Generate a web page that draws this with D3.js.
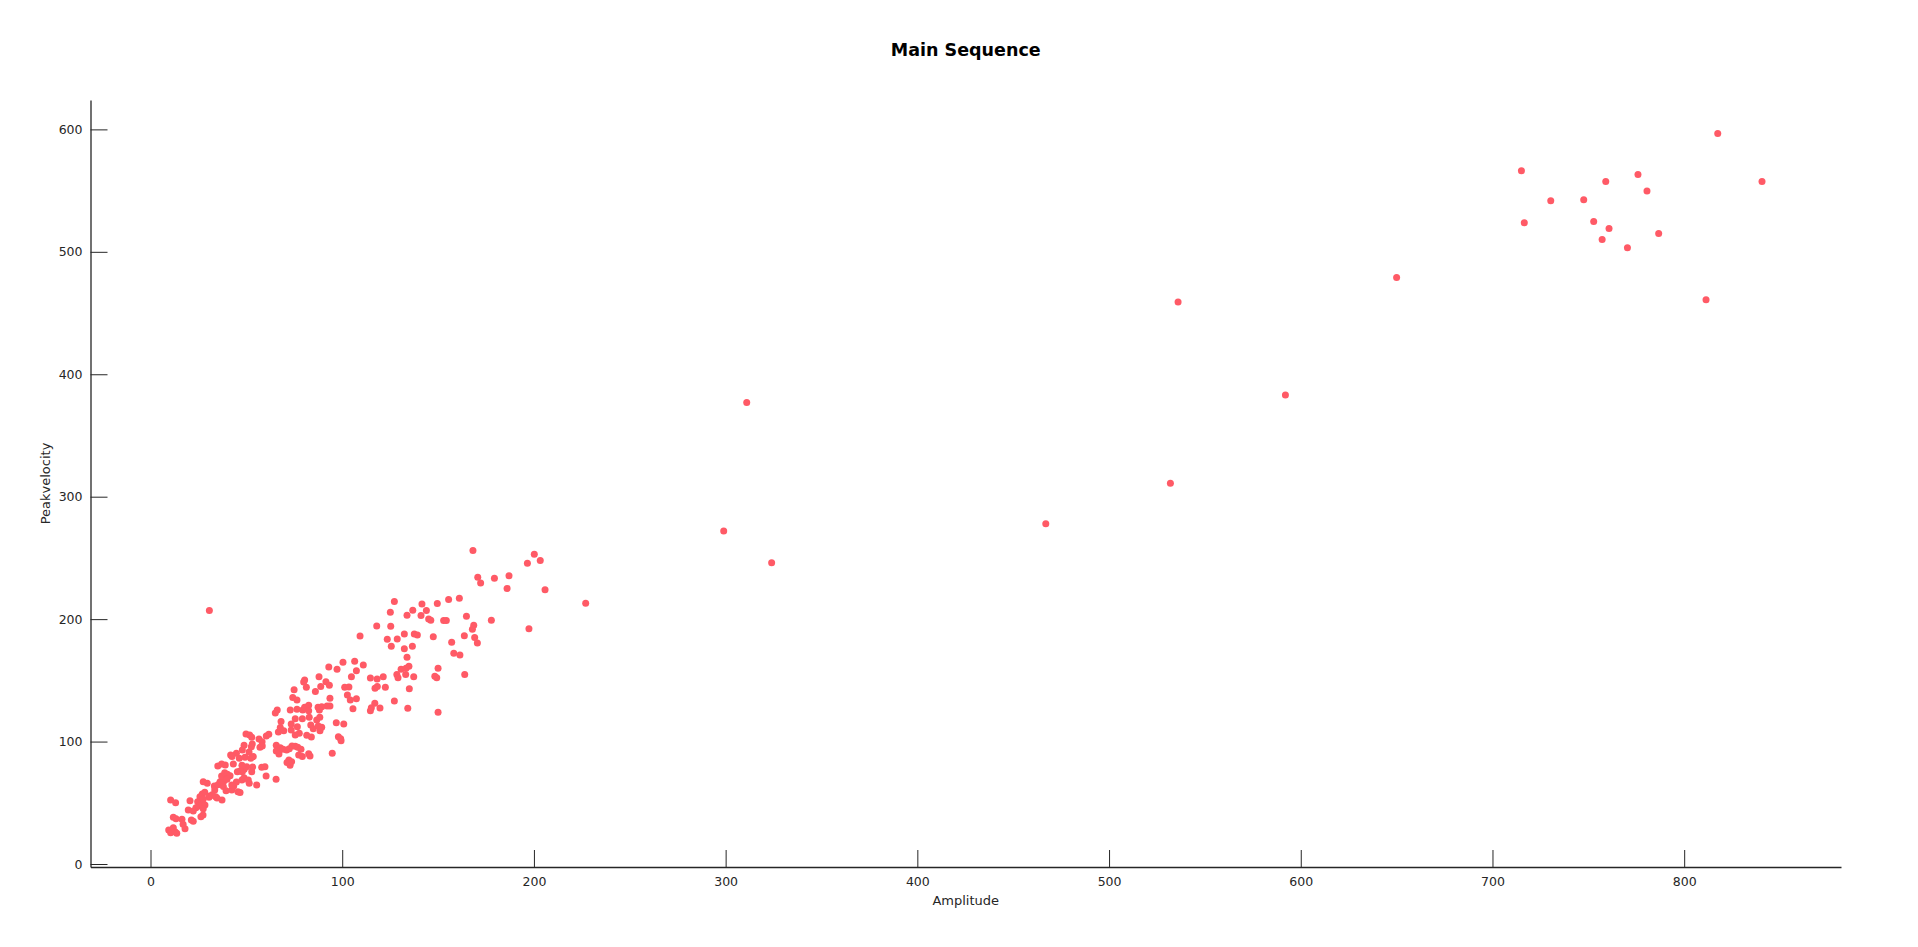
<!DOCTYPE html>
<html>
<head>
<meta charset="utf-8">
<script src="https://cdn.jsdelivr.net/npm/d3@7"></script>
<style>
  html, body { margin: 0; padding: 0; background: #ffffff; }
  svg { display: block; font-family: "DejaVu Sans", sans-serif; }
</style>
</head>
<body>
<svg id="chart" width="1918" height="947"></svg>
<script>
// ---- data ----
const title = "Main Sequence";
const xLabel = "Amplitude";
const yLabel = "Peakvelocity";
const xTicks = [0, 100, 200, 300, 400, 500, 600, 700, 800];
const yTicks = [0, 100, 200, 300, 400, 500, 600];

const amplitude = [
  10.5,13.1,20.6,27,28.3,25.8,24.6,26.9,28.4,25.3,23.7,27.5,30.5,31,27.5,
  19.7,22.3,21.3,22.3,26.3,27.4,11.9,13.3,16.4,17,18,9.5,10.5,11.9,12.8,13.7,
  29.6,27.5,33.3,33.5,35.2,36.3,38.3,37.1,38.7,40.1,41.5,39.9,38,39.4,42.4,45.6,43.4,44.8,42.4,46.7,
  47.7,48.8,51,51.5,47.9,48.9,46.7,45.3,52.8,55.4,60.3,65.5,37.3,34.7,34,32.2,
  66.1,65.1,68.1,67.7,66.7,69.5,73.4,88.4,99.4,94.8,
  51.7,49.8,52.8,53.1,56.6,58.2,60.4,61.7,57.1,58.3,
  65.6,67.7,65.6,67,69.1,71,73.8,75.5,76.8,78.5,72.4,
  82.5,83.2,79.2,72.2,71.2,77.3,
  48.8,47.9,44.8,41.8,42.5,46.3,49.3,52.3,53.6,51.4,52.6,
  58,59.7,53.3,50.2,72.8,47.7,43.2,39,37.1,35.1,73.6,
  127.2,125.1,118,125.3,109.3,123.5,128.7,125.6,130.7,128.5,129.1,135,134.2,127.2,119.7,115.2,114.7,117,
  117.1,118.3,122.5,121.4,118.2,114.7,111,107.4,106.5,100.4,97.3,93,104.8,101.3,103.5,102.7,104.2,107.4,105.6,
  87.9,91.5,93.3,80.4,81.3,79.9,74.9,86,88.8,93.6,92.1,93.6,74.2,76.4,72.9,76.4,79.4,80.4,82.5,82.5,
  87.4,89.3,88.1,75.5,79.2,82.8,86.7,88.3,73.4,76.6,83.6,84.9,87.5,89.3,96.9,100.8,98,99.2,77.6,81.5,83.9,75.5,
  168.2,200.2,196.6,203.3,170.7,172.2,179.4,187,186,205.8,227,161.1,155.5,149.6,141.6,143.9,136.8,133.8,141.1,
  145.1,146.2,152.9,154.3,164.8,177.8,197.4,168.6,167.9,132.4,137.6,139.2,147.5,163.7,169.1,170.5,157.1,136.6,
  132.4,158.2,161.4,133.8,150,134.8,133.3,148.3,149.3,163.9,137.3,133.1,150,
  30.7,
  299,311,324,467,532,536,592,650,
  715.1,716.6,730.4,747.6,759.1,752.8,760.8,757.2,775.9,780.6,770.4,786.7,817.5,840.6,811.4
];
const peakVelocity = [
  52.3,50.1,51.7,57.2,58.6,55,50.9,50.4,48.2,47.4,46,45.2,54.5,55.6,53.1,
  44.1,43.3,35.9,35,38.6,40,38.1,37,36.5,32.4,28.8,27.8,25.6,29.7,26.4,25.1,
  65.9,67.2,63.7,60.5,64.8,67.2,67.8,71.9,74.6,73.3,72.1,69.2,63.2,59.9,60.5,59.1,63.7,67,64.5,58.3,
  68.6,70.5,68.6,65.9,75.4,77.4,76,75.4,75.4,64.5,71.9,69.2,52.3,53.9,55,56.6,
  125.8,123.3,116.3,111.4,107.8,108.9,109.5,108.9,100.7,90.4,
  105.4,106.2,103.5,98,102.1,99.9,104.6,106,95.3,96.4,
  97,95,92.3,89.9,93.7,93.1,96.4,96.2,95.3,93.7,94.2,
  90.1,88.2,87.7,85,82.8,89.1,
  97,93.1,90.4,89.1,87.7,86.4,87.2,86.4,87.7,91.5,95.8,
  79,79.5,79.2,79.5,80.6,80.6,81.7,80.9,81.7,80.1,83.6,
  214.3,205.6,194.4,194.2,186.3,183.6,183.8,177.9,159,154.7,152.2,143.2,127.2,133.2,127.5,127.7,125.2,131.3,
  143.5,144.9,144.4,153,151.1,152,162.6,157.9,165.6,164.8,159,161,153,144.4,144.6,138,134,135,126.9,
  153,148.9,146,150.3,144.4,148.7,142.4,140.8,144.9,135.4,129.1,129.1,135.9,134,125.8,126.4,125.8,128,129.7,125.2,
  128,128.5,125.8,118.7,118.7,119.8,117.6,119.8,114.4,112.2,113.6,110.5,112.7,111.7,115.4,114.4,104,102.4,106.8,105.1,103.8,105.4,
  256,253,245.7,247.8,234.2,229.6,233.4,235.5,225,223.9,213,217,216,212.7,212.4,207,207.3,203.2,202.9,
  200.2,199.1,198.8,198.8,202.4,199.1,192.2,195,191.7,187.9,187.9,187,185.7,186.5,184.9,180.6,181.1,177.9,
  175.9,172.1,170.8,168.9,159.9,161.5,159.9,153.4,152.2,154.7,153,154.7,124,
  207,
  272,377,246,278,311,459,383,479,
  566.2,523.7,541.7,542.5,557.4,524.7,519.1,510.1,563.2,549.6,503.3,515,596.7,557.4,460.8
];

// ---- chart ----
const svg = d3.select("#chart");
const axisColor = "#262626";
const dotColor = "#ff5a66";

const x = d3.scaleLinear().domain([-31.3, 881.8]).range([90.5, 1841]);
const y = d3.scaleLinear().domain([-2.45, 624]).range([867, 100]);

const points = amplitude.map((a, i) => ({ a: a, p: peakVelocity[i] }));

// axes
const xAxis = d3.axisBottom(x).tickValues(xTicks).tickSize(0).tickPadding(10).tickFormat(d3.format("d"));
const yAxis = d3.axisLeft(y).tickValues(yTicks).tickSize(0).tickPadding(8).tickFormat(d3.format("d"));

const gx = svg.append("g").attr("transform", `translate(0,${y.range()[0]})`).call(xAxis);
const gy = svg.append("g").attr("transform", `translate(${x.range()[0]},0)`).call(yAxis);

[gx, gy].forEach(g => {
  g.select(".domain").attr("stroke", axisColor).attr("stroke-width", 1.3);
  g.selectAll(".tick text")
    .attr("fill", axisColor)
    .style("font-size", "12.5px")
    .style("font-family", "DejaVu Sans, sans-serif");
});

// inward ticks
gx.selectAll(".tick").append("line")
  .attr("x1", 0).attr("x2", 0).attr("y1", 0).attr("y2", -17)
  .attr("stroke", axisColor).attr("stroke-width", 1);
gy.selectAll(".tick").append("line")
  .attr("x1", 0).attr("x2", 17).attr("y1", 0).attr("y2", 0)
  .attr("stroke", axisColor).attr("stroke-width", 1);

// points
svg.append("g").selectAll("circle")
  .data(points)
  .join("circle")
  .attr("cx", d => x(d.a))
  .attr("cy", d => y(d.p))
  .attr("r", 3.5)
  .attr("fill", dotColor);

// title & labels
svg.append("text")
  .attr("x", (x.range()[0] + x.range()[1]) / 2)
  .attr("y", 56)
  .attr("text-anchor", "middle")
  .attr("fill", "#000")
  .style("font-size", "17.5px")
  .style("font-weight", "bold")
  .text(title);

svg.append("text")
  .attr("x", (x.range()[0] + x.range()[1]) / 2)
  .attr("y", 905)
  .attr("text-anchor", "middle")
  .attr("fill", axisColor)
  .style("font-size", "13px")
  .text(xLabel);

svg.append("text")
  .attr("transform", `translate(50,${(y.range()[0] + y.range()[1]) / 2}) rotate(-90)`)
  .attr("text-anchor", "middle")
  .attr("fill", axisColor)
  .style("font-size", "13px")
  .text(yLabel);
</script>
</body>
</html>
